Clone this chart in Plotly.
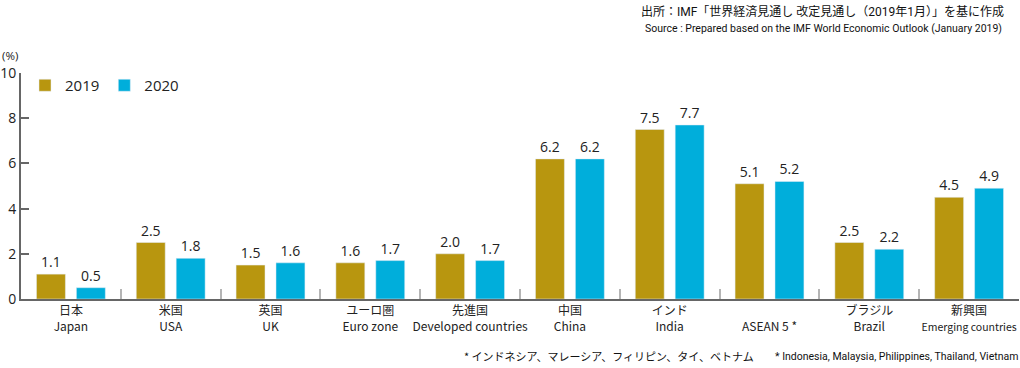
import plotly.graph_objects as go

categories = ["日本<br>Japan", "米国<br>USA", "英国<br>UK", "ユーロ圏<br>Euro zone",
              "先進国<br>Developed countries", "中国<br>China", "インド<br>India",
              "<br>ASEAN 5 *", "ブラジル<br>Brazil",
              "新興国<br><span style='font-size:10.5px'>Emerging countries</span>"]
cat_ids = ["Japan", "USA", "UK", "Euro", "Developed", "China", "India", "ASEAN", "Brazil", "Emerging"]
v2019 = [1.1, 2.5, 1.5, 1.6, 2.0, 6.2, 7.5, 5.1, 2.5, 4.5]
v2020 = [0.5, 1.8, 1.6, 1.7, 1.7, 6.2, 7.7, 5.2, 2.2, 4.9]
ytick_vals = [0, 2, 4, 6, 8, 10]

C19 = "#B8960F"
C20 = "#00AEDB"
JP = "Noto Sans CJK JP"
NARROW = "Roboto, Noto Sans CJK JP"
NUM = "Open Sans, Noto Sans"

W, H = 1020, 368
L, R, T, B = 21, 1, 73, 69
pw, ph = W - L - R, H - T - B

def px_x(x):
    return (x - L) / pw

def px_y(y):
    return (H - B - y) / ph

fig = go.Figure()
fig.add_trace(go.Bar(x=cat_ids, y=v2019, name="2019", marker_color=C19,
                     texttemplate="%{y:.1f}", textposition="outside",
                     textfont=dict(size=14, color="#222", family=NUM), cliponaxis=False))
fig.add_trace(go.Bar(x=cat_ids, y=v2020, name="2020", marker_color=C20,
                     texttemplate="%{y:.1f}", textposition="outside",
                     textfont=dict(size=14, color="#222", family=NUM), cliponaxis=False))

fig.update_layout(
    width=W, height=H,
    margin=dict(l=L, r=R, t=T, b=B, autoexpand=False),
    paper_bgcolor="white", plot_bgcolor="white",
    barmode="group", bargap=0.2, bargroupgap=0.275,
    font=dict(family=JP, color="#222"),
    showlegend=True,
    legend=dict(orientation="h", x=px_x(25), y=px_y(69), xanchor="left", yanchor="top",
                font=dict(size=15, family=NUM, color="#222"),
                bgcolor="rgba(0,0,0,0)", itemwidth=30, tracegroupgap=0),
    xaxis=dict(type="category", tickmode="array", tickvals=cat_ids, ticktext=categories,
               tickson="boundaries", ticks="inside", ticklen=10, tickcolor="#b5b5b5",
               tickwidth=1.5, showline=True, linecolor="#666", linewidth=2,
               tickangle=0, automargin=False,
               tickfont=dict(size=12, family=JP, color="#222"), showgrid=False,
               fixedrange=True),
    yaxis=dict(range=[0, 10], tickvals=ytick_vals, ticks="inside", ticklen=8,
               tickcolor="#666", tickwidth=1.5, showline=True, linecolor="#666",
               linewidth=2, showgrid=False, zeroline=False, automargin=False,
               tickfont=dict(size=14, family=NUM, color="#222")),
)

annotations = [
    dict(text="(%)", x=px_x(0), y=px_y(55), xref="paper", yref="paper",
         xanchor="left", yanchor="middle", showarrow=False,
         font=dict(size=11.5, family=NUM, color="#222")),
    dict(text="出所：IMF「世界経済見通し 改定見通し（2019年1月）」を基に作成",
         x=px_x(1006), y=px_y(12), xref="paper", yref="paper",
         xanchor="right", yanchor="middle", showarrow=False,
         font=dict(size=12, family=NARROW, color="#111")),
    dict(text="Source : Prepared based on the IMF World Economic Outlook (January 2019)",
         x=px_x(1004), y=px_y(28), xref="paper", yref="paper",
         xanchor="right", yanchor="middle", showarrow=False,
         font=dict(size=10.5, family=NARROW, color="#111")),
    dict(text="* インドネシア、マレーシア、フィリピン、タイ、ベトナム",
         x=px_x(462), y=px_y(356), xref="paper", yref="paper",
         xanchor="left", yanchor="middle", showarrow=False,
         font=dict(size=11, family=JP, color="#111")),
    dict(text="* Indonesia, Malaysia, Philippines, Thailand, Vietnam",
         x=px_x(1020), y=px_y(356), xref="paper", yref="paper",
         xanchor="right", yanchor="middle", showarrow=False,
         font=dict(size=10.5, family=NARROW, color="#111")),
]
fig.update_layout(annotations=annotations)

fig.write_html("out.html", config={"displayModeBar": False},
               post_script="document.body.style.margin='0';document.body.style.overflow='hidden';")
